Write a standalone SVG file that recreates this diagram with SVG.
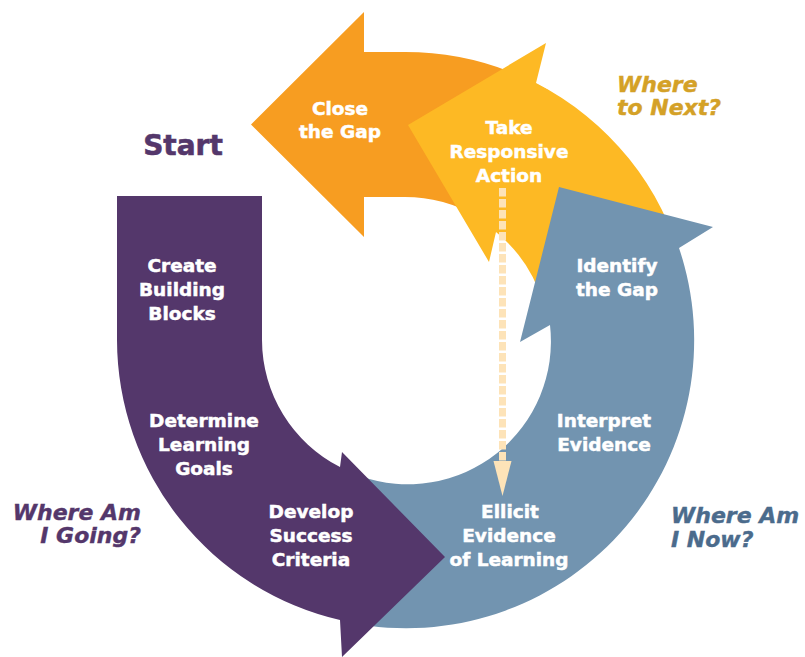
<svg xmlns="http://www.w3.org/2000/svg" width="805" height="657" viewBox="0 0 805 657">
<style>
.lbl{font-family:"DejaVu Sans","Liberation Sans",sans-serif;font-weight:bold;font-size:18.5px;fill:#ffffff;stroke:#ffffff;stroke-width:0.5;text-anchor:middle}
.q{font-family:"DejaVu Sans","Liberation Sans",sans-serif;font-weight:bold;font-style:italic;font-size:22px;stroke-width:0.4}
</style>
<defs>
<marker id="ah" markerUnits="userSpaceOnUse" markerWidth="36" markerHeight="20" refX="0" refY="9" orient="auto" viewBox="0 0 36 18">
<path d="M0,0 L35,9 L0,18 Z" fill="#FDE3B8"/>
</marker>
</defs>
<rect width="805" height="657" fill="#ffffff"/>
<g id="close-gap">
<path d="M476.5,216.2 A143,143 0 0 0 405,197 L364,197 L364,237 L251,124.5 L364,12 L364,52 L405,52 A288,288 0 0 1 549,90.6 Z" fill="#F79D21"/>
<text class="lbl" x="340" y="115">Close</text>
<text class="lbl" x="340" y="138">the Gap</text>
</g>
<g id="take-action">
<path d="M543,303 A143,143 0 0 0 496,232 L489,262 L408,125 L546,43 L536,83 A288,288 0 0 1 683,265.5 Z" fill="#FDB924"/>
</g>
<g id="where-next">
<text class="q" x="617" y="92" fill="#D4A127" stroke="#D4A127">Where</text>
<text class="q" x="617" y="115" fill="#D4A127" stroke="#D4A127">to Next?</text>
</g>
<g id="evidence">
<path d="M360,476 A143,143 0 0 0 550,325 L520,342 L559,187 L713,227 L679,248 A288,288 0 0 1 360,624.5 Z" fill="#7294B0"/>
<text class="lbl" x="617" y="272">Identify</text>
<text class="lbl" x="617" y="296">the Gap</text>
<text class="lbl" x="604" y="427">Interpret</text>
<text class="lbl" x="604" y="451">Evidence</text>
</g>
<g id="where-now">
<text class="q" x="671" y="523" fill="#4B6B8C" stroke="#4B6B8C">Where Am</text>
<text class="q" x="671" y="547" fill="#4B6B8C" stroke="#4B6B8C">I Now?</text>
</g>
<g id="going">
<path d="M117,196 L262,196 L262,340 A143,143 0 0 0 340,467 L342,452 L445,557 L342,657 L340,620 A288,288 0 0 1 117,340 Z" fill="#54376B"/>
<text class="lbl" x="182" y="272">Create</text>
<text class="lbl" x="182" y="296">Building</text>
<text class="lbl" x="182" y="320">Blocks</text>
<text class="lbl" x="204" y="427">Determine</text>
<text class="lbl" x="204" y="451">Learning</text>
<text class="lbl" x="204" y="475">Goals</text>
<text class="lbl" x="311" y="518">Develop</text>
<text class="lbl" x="311" y="542">Success</text>
<text class="lbl" x="311" y="566">Criteria</text>
</g>
<g id="start">
<text x="183" y="155" style="font-family:'DejaVu Sans','Liberation Sans',sans-serif;font-weight:bold;font-size:28px;fill:#54376B;stroke:#54376B;stroke-width:0.6;text-anchor:middle">Start</text>
</g>
<g id="where-going">
<text class="q" x="141" y="520" fill="#54376B" stroke="#54376B" text-anchor="end">Where Am</text>
<text class="q" x="141" y="543" fill="#54376B" stroke="#54376B" text-anchor="end">I Going?</text>
</g>
<g id="connectors">
<line x1="502.5" y1="188" x2="502.5" y2="461" stroke="#FDE3B8" stroke-width="7" stroke-dasharray="8.5 2.5" marker-end="url(#ah)"/>
</g>
<g id="take-action-label">
<text class="lbl" x="509" y="134">Take</text>
<text class="lbl" x="509" y="158">Responsive</text>
<text class="lbl" x="509" y="182">Action</text>
</g>
<g id="ellicit">
<text class="lbl" x="510" y="518">Ellicit</text>
<text class="lbl" x="509" y="542">Evidence</text>
<text class="lbl" x="509" y="566">of Learning</text>
</g>
</svg>
